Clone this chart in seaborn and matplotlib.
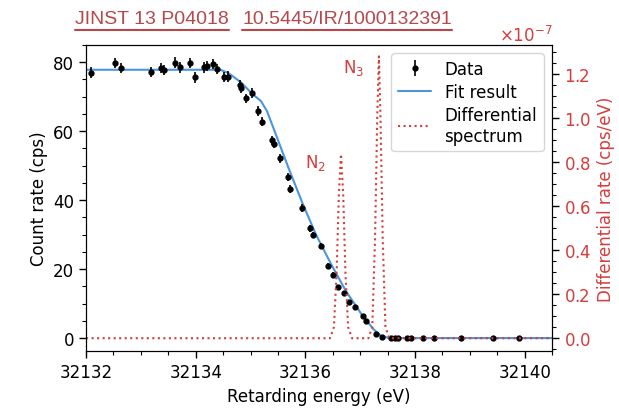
import numpy as np
import pandas as pd
import matplotlib
matplotlib.use("Agg")
import matplotlib.pyplot as plt
import matplotlib.ticker as mticker
from matplotlib.lines import Line2D
import seaborn as sns

# measured points (retarding energy in eV, count rate in cps)
data_x = [32132.09, 32132.53, 32132.64, 32133.18, 32133.36, 32133.43, 32133.63, 32133.71,
          32133.89, 32133.98, 32134.15, 32134.20, 32134.31, 32134.39, 32134.51, 32134.59,
          32134.80, 32134.82, 32134.91, 32135.02, 32135.13, 32135.21, 32135.39, 32135.43,
          32135.54, 32135.69, 32135.72, 32135.93, 32136.09, 32136.14, 32136.29, 32136.42,
          32136.50, 32136.60, 32136.70, 32136.80, 32136.90, 32137.05, 32137.11, 32137.29,
          32137.40, 32137.57, 32137.63, 32137.69, 32137.86, 32137.92, 32138.15, 32138.35,
          32138.84, 32139.43, 32139.89]
data_y = [77.0, 79.7, 78.3, 77.2, 78.3, 77.8, 79.9, 78.5,
          79.7, 75.6, 78.5, 78.9, 79.4, 78.0, 75.7, 75.8,
          73.3, 72.5, 69.5, 71.0, 65.8, 62.7, 57.4, 56.4,
          52.1, 46.6, 43.2, 37.8, 31.8, 29.9, 26.8, 21.0,
          18.4, 14.7, 13.0, 10.5, 9.1, 6.5, 5.0, 1.2,
          0.2, 0.0, 0.0, 0.0, 0.0, 0.0, 0.0, 0.0,
          0.0, 0.0, 0.0]
data_err = [1.5, 1.5, 1.5, 1.5, 1.5, 1.5, 1.5, 1.5,
            1.5, 1.5, 1.5, 1.5, 1.5, 1.5, 1.5, 1.5,
            1.4, 1.4, 1.4, 1.4, 1.4, 1.3, 1.3, 1.3,
            1.2, 1.2, 1.2, 1.1, 1.0, 1.0, 0.9, 0.8,
            0.8, 0.7, 0.6, 0.6, 0.5, 0.4, 0.4, 0.2,
            0.1, 0.05, 0.05, 0.05, 0.05, 0.05, 0.05, 0.05,
            0.05, 0.05, 0.05]

# fit curve
fit_x = [32132.0, 32134.45, 32134.60, 32134.82, 32135.04, 32135.19, 32135.30, 32135.46,
         32135.70, 32135.94, 32136.19, 32136.47, 32136.74, 32137.02, 32137.24, 32137.38,
         32137.53, 32140.5]
fit_y = [77.8, 77.8, 76.8, 74.2, 70.7, 68.7, 65.8, 59.1,
         49.0, 39.4, 30.1, 21.4, 13.6, 7.0, 2.6, 0.6,
         0.0, 0.0]

# differential spectrum (cps/eV, x1e-7)
diff_x = [32132.0, 32136.45, 32136.52, 32136.57, 32136.61, 32136.65, 32136.69, 32136.73,
          32136.78, 32136.85, 32137.15, 32137.22, 32137.27, 32137.31, 32137.34, 32137.37,
          32137.41, 32137.46, 32137.53, 32140.5]
diff_y = [0.0, 0.0, 0.05, 0.30, 0.65, 0.836, 0.65, 0.30,
          0.05, 0.0, 0.0, 0.05, 0.45, 1.0, 1.28, 1.0,
          0.45, 0.05, 0.0, 0.0]

red = "#d43d3d"
blue = "#4a95dc"

sns.set_style("ticks")
plt.rcParams["font.family"] = ["DejaVu Sans"]
plt.rcParams["font.size"] = 12
for k in ("text.color", "axes.labelcolor", "xtick.color", "ytick.color", "axes.edgecolor"):
    plt.rcParams[k] = "black"

fig, ax = plt.subplots(figsize=(6.19, 4.10), dpi=100)
fig.subplots_adjust(left=0.139, right=0.892, bottom=0.141, top=0.888)
ax2 = ax.twinx()

fit_df = pd.DataFrame({"x": fit_x, "y": fit_y})
diff_df = pd.DataFrame({"x": diff_x, "y": np.array(diff_y) * 1e-7})

ax.errorbar(data_x, data_y, yerr=data_err, fmt="o", color="black", ms=3.5,
            elinewidth=1.2, capsize=0, label="Data", zorder=3)
sns.lineplot(data=fit_df, x="x", y="y", ax=ax, color=blue, lw=1.5,
             label="Fit result", sort=False, legend=False, zorder=2)
sns.lineplot(data=diff_df, x="x", y="y", ax=ax2, color=red, lw=1.5, ls=":",
             label="Differential\nspectrum", sort=False, legend=False)

ax.set_xlim(32132, 32140.5)
ax.set_ylim(-3.8, 85)
ax2.set_ylim(-0.059e-7, 1.332e-7)

ax.xaxis.set_major_locator(mticker.MultipleLocator(2))
ax.xaxis.set_minor_locator(mticker.MultipleLocator(0.5))
ax.xaxis.set_major_formatter(mticker.FormatStrFormatter("%d"))
ax.yaxis.set_major_locator(mticker.MultipleLocator(20))
ax.yaxis.set_minor_locator(mticker.MultipleLocator(5))
ax2.yaxis.set_major_locator(mticker.MultipleLocator(0.2e-7))
ax2.yaxis.set_minor_locator(mticker.MultipleLocator(0.05e-7))
fmt = mticker.ScalarFormatter(useMathText=True)
fmt.set_powerlimits((-3, 3))
ax2.yaxis.set_major_formatter(fmt)
ax2.yaxis.get_offset_text().set_color(red)
ax2.yaxis.get_offset_text().set_fontsize(12)

ax.tick_params(which="major", direction="out", length=5, width=1, color="black")
ax.tick_params(which="minor", direction="out", length=3, width=0.8, color="black")
ax2.tick_params(which="major", direction="out", length=5, width=1, color="black", labelcolor=red)
ax2.tick_params(which="minor", direction="out", length=3, width=0.8, color="black")

ax.set_xlabel("Retarding energy (eV)")
ax.set_ylabel("Count rate (cps)")
ax2.set_ylabel("Differential rate (cps/eV)", color=red)
for a in (ax, ax2):
    for s in a.spines.values():
        s.set_visible(True)
        s.set_color("black")

ax2.text(32136.19, 0.80e-7, "N$_2$", color=red, fontsize=12, ha="center", va="center")
ax2.text(32136.87, 1.23e-7, "N$_3$", color=red, fontsize=12, ha="center", va="center")

h1, l1 = ax.get_legend_handles_labels()
h2, l2 = ax2.get_legend_handles_labels()
handles = dict(zip(l1 + l2, h1 + h2))
order = ["Data", "Fit result", "Differential\nspectrum"]
ax2.legend([handles[k] for k in order], order, loc="upper right", fontsize=12,
           frameon=True, handlelength=2.0, borderpad=0.4, labelspacing=0.3)

# header text with underlines
t1 = fig.text(75 / 619, 1 - 20 / 410, "JINST 13 P04018", color="#b8474c",
              fontsize=14, family="Liberation Sans", va="center")
t2 = fig.text(242 / 619, 1 - 20 / 410, "10.5445/IR/1000132391", color="#b8474c",
              fontsize=14, family="Liberation Sans", va="center")
fig.canvas.draw()
r = fig.canvas.get_renderer()
for t in (t1, t2):
    bb = t.get_window_extent(r)
    fig.add_artist(Line2D([bb.x0, bb.x1], [bb.y0 - 2, bb.y0 - 2], color="#b8474c",
                          lw=1.5, transform=None))

fig.savefig("out.png", dpi=100)
